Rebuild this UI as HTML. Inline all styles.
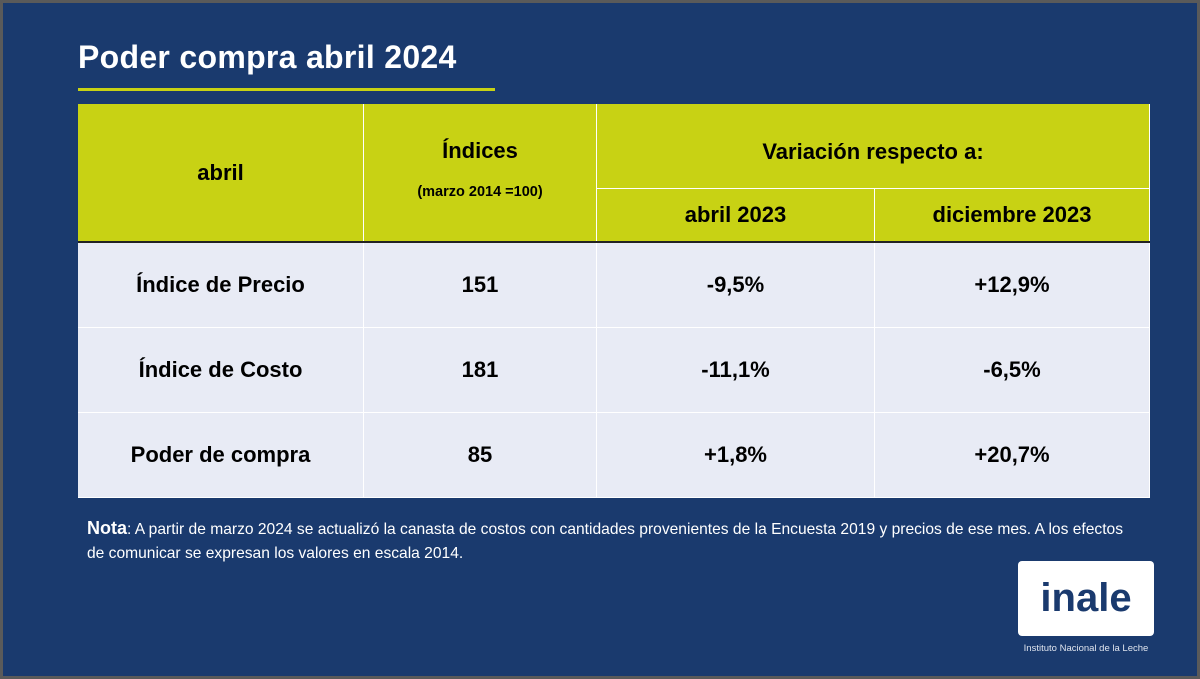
<!DOCTYPE html>
<html><head><meta charset="utf-8"><style>
*{margin:0;padding:0;box-sizing:border-box}
body{width:1200px;height:679px;overflow:hidden;background:#5a5a5a;font-family:"Liberation Sans",Arial,sans-serif}
#slide{position:absolute;left:3px;top:3px;width:1194px;height:673px;background:#1a3a6e}
#title{position:absolute;left:75px;top:36px;color:#fff;font-weight:bold;font-size:32px;letter-spacing:0.3px}
#uline{position:absolute;left:75px;top:85px;width:417px;height:3px;background:#c8d214}
.c{position:absolute;display:flex;align-items:center;justify-content:center;text-align:center;font-size:22px;color:#000;border-right:1px solid #fff;border-bottom:1px solid #fff}
.h{background:#c8d214}
.r{background:#e8ebf5;border-bottom:1px solid #fff;border-right:1px solid #fff}
#nota{position:absolute;left:84px;top:513px;width:1055px;color:#fff;font-size:15.6px;line-height:24px}
#logo{position:absolute;left:1015px;top:558px;width:136px;height:75px;background:#fff;border-radius:4px;color:#1a3a6e;font-weight:bold;font-size:40px;display:flex;align-items:center;justify-content:center}
#cap{position:absolute;left:1015px;top:640px;width:136px;text-align:center;color:#dfe4ee;font-size:9.5px}
</style></head><body>
<div id="slide">
<div id="title">Poder compra abril 2024</div>
<div id="uline"></div>
<div>
<div class="c h" style="left:75px;top:101px;width:286px;height:138px"><b>abril</b></div>
<div class="c h" style="left:361px;top:101px;width:233px;height:138px;flex-direction:column"><b style="margin-top:-8px">Índices</b><b style="font-size:14.5px;margin-top:20px">(marzo 2014 =100)</b></div>
<div class="c h" style="left:594px;top:101px;width:553px;height:85px;align-items:flex-start;padding-top:35px"><b>Variación respecto a:</b></div>
<div class="c h" style="left:594px;top:186px;width:278px;height:53px"><b>abril 2023</b></div>
<div class="c h" style="left:872px;top:186px;width:275px;height:53px"><b>diciembre 2023</b></div>
<div style="position:absolute;left:75px;top:238px;width:1072px;height:2px;background:#222"></div>

<div class="c r" style="left:75px;top:240px;width:286px;height:85px"><b>Índice de Precio</b></div>
<div class="c r" style="left:361px;top:240px;width:233px;height:85px"><b>151</b></div>
<div class="c r" style="left:594px;top:240px;width:278px;height:85px"><b>-9,5%</b></div>
<div class="c r" style="left:872px;top:240px;width:275px;height:85px"><b>+12,9%</b></div>

<div class="c r" style="left:75px;top:325px;width:286px;height:85px"><b>Índice de Costo</b></div>
<div class="c r" style="left:361px;top:325px;width:233px;height:85px"><b>181</b></div>
<div class="c r" style="left:594px;top:325px;width:278px;height:85px"><b>-11,1%</b></div>
<div class="c r" style="left:872px;top:325px;width:275px;height:85px"><b>-6,5%</b></div>

<div class="c r" style="left:75px;top:410px;width:286px;height:85px"><b>Poder de compra</b></div>
<div class="c r" style="left:361px;top:410px;width:233px;height:85px"><b>85</b></div>
<div class="c r" style="left:594px;top:410px;width:278px;height:85px"><b>+1,8%</b></div>
<div class="c r" style="left:872px;top:410px;width:275px;height:85px"><b>+20,7%</b></div>
</div>
<div id="nota"><b style="font-size:18px">Nota</b>: A partir de marzo 2024 se actualizó la canasta de costos con cantidades provenientes de la Encuesta 2019 y precios de ese mes. A los efectos de comunicar se expresan los valores en escala 2014.</div>
<div id="logo">inale</div>
<div id="cap">Instituto Nacional de la Leche</div>
</div>
</body></html>
